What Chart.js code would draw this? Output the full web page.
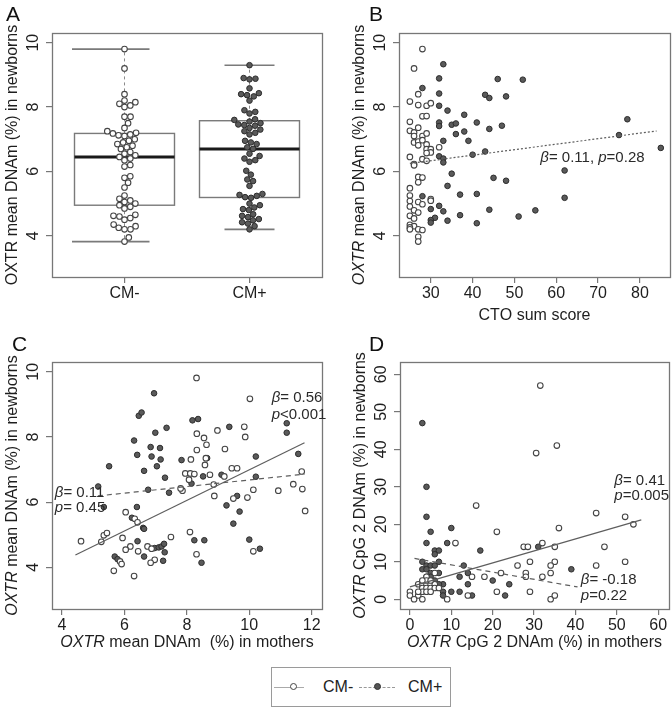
<!DOCTYPE html>
<html><head><meta charset="utf-8">
<script src="https://cdn.jsdelivr.net/npm/chart.js@4.4.1/dist/chart.umd.min.js"></script>
<style>
html,body{margin:0;padding:0;background:#fff;}
#wrap{position:relative;width:672px;height:709px;overflow:hidden;font-family:"Liberation Sans",Arial,Helvetica,sans-serif;color:#222;}
.pane{position:absolute;}
.pane canvas{display:block;}
#legend{position:absolute;left:271px;top:667px;width:180px;height:40px;border:1px solid #9a9a9a;box-sizing:border-box;}
#legend .ln{position:absolute;top:19px;height:0;}
#legend .dot{position:absolute;top:15px;width:7px;height:7px;border-radius:50%;box-sizing:border-box;}
#legend .lab{position:absolute;top:10px;font-size:16px;line-height:18px;}
</style></head><body>
<div id="wrap">
  <div class="pane" style="left:0;top:0"><canvas id="cA" width="336" height="320" style="width:336px;height:320px"></canvas></div>
  <div class="pane" style="left:336px;top:0"><canvas id="cB" width="336" height="320" style="width:336px;height:320px"></canvas></div>
  <div class="pane" style="left:0;top:320px"><canvas id="cC" width="336" height="340" style="width:336px;height:340px"></canvas></div>
  <div class="pane" style="left:336px;top:320px"><canvas id="cD" width="336" height="340" style="width:336px;height:340px"></canvas></div>
  <div id="legend">
    <div class="ln" style="left:2px;width:30px;border-top:1px solid #aaa"></div>
    <div class="dot" style="left:18px;border:1.5px solid #444;background:#fff"></div>
    <div class="lab" style="left:51px">CM-</div>
    <div class="ln" style="left:87px;width:36px;border-top:1px dashed #999"></div>
    <div class="dot" style="left:102px;border:1px solid #333;background:#555"></div>
    <div class="lab" style="left:136px">CM+</div>
  </div>
</div>
<script>
// ---------------- DATA ----------------
const groupLabels = ['CM-', 'CM+'];

// Panel A: newborn mean DNAm by group
const aNewbornCMneg = [9.8, 9.2, 8.4, 8.2, 8.15, 8.1, 8.05, 8.0, 7.7, 7.7, 7.5, 7.35, 7.25, 7.2, 7.18, 7.15, 7.12, 7.1,
  7.0, 6.95, 6.9, 6.85, 6.8, 6.75, 6.7, 6.6, 6.55, 6.5, 6.45, 6.4, 6.35, 6.2, 6.15, 5.85, 5.8, 5.65, 5.5,
  5.25, 5.15, 5.1, 5.05, 5.0, 4.95, 4.9, 4.85, 4.65, 4.62, 4.6, 4.55, 4.5, 4.35, 4.3, 4.25, 4.2, 4.2, 3.95, 3.82];
const aNewbornCMpos = [9.3, 8.9, 8.88, 8.86, 8.58, 8.43, 8.4, 8.37, 8.33, 8.2, 7.9, 7.85, 7.8, 7.62, 7.6, 7.55, 7.5,
  7.46, 7.44, 7.42, 7.35, 7.3, 7.25, 7.2, 7.15, 6.95, 6.9, 6.85, 6.75, 6.7, 6.55, 6.48, 6.4, 6.35, 6.3, 6.02, 5.9,
  5.75, 5.7, 5.55, 5.3, 5.27, 5.24, 5.2, 5.18, 5.0, 4.95, 4.88, 4.83, 4.8, 4.67, 4.62, 4.58, 4.52, 4.48, 4.42, 4.38, 4.3, 4.2];

// Panel B: [CTQ sum score, newborn mean DNAm]
const bCMneg = [[28,9.8],[26,9.2],[27,8.4],[25,8.17],[27,8.06],[29,8.04],[30,8.12],[28,7.71],[29,7.72],[25,7.54],
  [25,7.26],[26,7.21],[27,7.36],[26,7.1],[28,7.1],[29,7.18],[26,6.9],[27,6.93],[28,6.97],[27,6.81],[29,6.84],
  [29,6.69],[30,6.69],[30,6.59],[29,6.57],[25,6.45],[28,6.38],[29,6.33],[26,6.23],[26,6.19],[27,5.83],[28,5.81],
  [27,5.66],[25,5.48],[25,5.25],[25,5.08],[27,5.05],[28,4.98],[30,5.14],[30,5.09],[25,4.91],[26,4.79],[27,4.72],
  [25,4.62],[26,4.54],[25,4.34],[26,4.30],[25,4.26],[27,4.2],[28,4.18],[27,3.97],[27,3.82],[32,6.75],[25,4.2]];
const bCMpos = [[33,9.33],[32,8.89],[28,8.59],[32,8.42],[32,8.04],[34,7.89],[38,7.76],[32,7.52],[32,7.41],[35,7.45],
  [36,7.49],[41,7.52],[47,7.42],[36,7.16],[38,7.24],[44,7.32],[39,6.95],[33,6.95],[43,6.62],[40,6.52],[32,6.47],
  [33,6.4],[33,6.28],[35,5.93],[45,5.8],[48,5.71],[34,5.55],[37,5.28],[41,5.3],[28,5.23],[32,4.93],[30,4.83],
  [33,4.76],[44,4.81],[55,4.79],[37,4.64],[31,4.56],[30,4.49],[30,4.41],[34,4.47],[41,4.39],[51,4.6],[46,8.87],
  [52,8.85],[43,8.38],[44,8.28],[48,8.33],[75,7.13],[77,7.62],[85,6.73],[62,6.03],[62,5.18]];

// Panel C: [mother mean DNAm, newborn mean DNAm]
const cCMneg = [[8.31,9.81],[10.02,9.17],[9.84,8.31],[8.98,8.2],[8.32,8.1],[8.55,7.97],[9.87,8.0],[8.63,7.76],
  [8.32,7.6],[9.22,7.63],[8.13,7.31],[8.61,7.35],[8.58,7.14],[7.95,6.88],[8.11,6.88],[8.24,6.86],[8.74,6.84],
  [9.2,6.79],[9.44,7.04],[9.61,7.04],[11.68,6.94],[8.07,6.69],[11.41,6.55],[11.7,6.4],[10.93,6.35],[10.13,6.38],
  [9.94,6.14],[9.49,6.11],[8.88,6.19],[8.86,6.54],[7.86,6.35],[7.8,6.42],[6.04,5.69],[6.33,5.49],[6.42,5.38],
  [11.79,5.73],[4.61,4.8],[5.26,4.78],[5.34,4.98],[5.44,5.05],[5.94,4.9],[6.19,4.64],[6.04,4.54],[6.44,4.49],
  [6.74,4.64],[6.87,4.57],[6.97,4.23],[6.84,4.14],[6.31,3.73],[5.66,3.89],[5.86,4.18],[5.91,4.1],[7.49,4.93],
  [8.1,5.08],[8.31,4.4],[10.13,4.49]];
const cCMpos = [[6.95,9.34],[6.46,8.65],[6.55,8.75],[8.18,8.51],[8.36,8.55],[7.35,8.28],[9.36,8.31],[11.2,8.42],
  [11.2,8.13],[6.99,8.13],[6.31,7.89],[6.84,7.69],[7.14,7.66],[6.41,7.45],[6.87,7.40],[7.16,7.31],[10.21,7.4],
  [11.57,7.48],[7.83,7.29],[8.65,7.35],[5.51,7.1],[7.04,7.1],[6.63,6.96],[7.3,6.75],[8.52,6.79],[9.11,6.84],
  [10.21,6.78],[8.15,6.57],[9.61,6.19],[9.27,5.9],[7.43,6.29],[6.76,6.38],[5.16,6.48],[5.34,5.85],[6.4,5.85],
  [6.24,5.52],[6.6,5.21],[6.63,5.18],[9.69,5.71],[9.49,5.34],[6.42,4.8],[6.97,4.59],[7.1,4.61],[7.19,4.64],
  [7.27,4.72],[7.29,4.46],[6.63,4.33],[7.24,4.2],[5.69,4.33],[5.78,4.25],[8.24,4.83],[8.56,4.83],[8.47,4.14],
  [10.0,4.85],[10.34,4.57]];

// Panel D: [mother CpG 2 DNAm, newborn CpG 2 DNAm]
const dCMneg = [[31.5,57],[30.5,39],[35.5,41],[16,25],[21,18],[45,23],[52,22],[54,20],[36,19],[11,15],[32,15],
  [27.5,14],[28.5,14],[35,14],[47,14],[29,10],[26,9],[35,10],[34,9],[45,9],[52,10],[28,7],[28,6],[22,7],[18,6],
  [15,6],[32,6],[34,7],[21,2],[29,2],[34,0],[35,1],[14,1],[9,0],[0,2],[0,1],[2,1],[1,0],[3,0],[2,4],[3,4],[4,4],
  [5,4],[6,4],[3,3],[4,3],[5,3],[6,3],[3,2],[4,2],[5,2],[4,6],[4,5],[3,5],[5,5],[6,7],[2,2],[7,3]];
const dCMpos = [[3,47],[4,30],[4,22],[5,18],[10,19],[4,15],[9,15],[6,13],[7,13],[6,12],[17,13],[31,14],[3,10],
  [4,9],[5,9],[6,9],[7,10],[3,8],[4,8],[5,7],[5,6],[7,7],[13,9],[12,6],[14,7],[14,4],[8,4],[8,2],[8,1],[10,2],
  [12,2],[15,1],[20,5],[23,1],[24,4],[39,8],[6,5],[4,6],[7,4]];

// Fitted lines: [intercept, slope], [x from, x to]
const fitB = [5.82, 0.0171], fitBRange = [25, 84];
const fitCneg = [2.30, 0.469], fitCnegRange = [4.43, 11.77];
const fitCpos = [5.67, 0.101], fitCposRange = [5.15, 11.77];
const fitDneg = [3.3, 0.32], fitDnegRange = [0, 55.9];
const fitDpos = [11.1, -0.193], fitDposRange = [1.1, 40.5];

// Tick labels
const ticksDNAm = [4, 6, 8, 10];
const ticksCTQ = [30, 40, 50, 60, 70, 80];
const ticksMother = [4, 6, 8, 10, 12];
const ticksCpG = [0, 10, 20, 30, 40, 50, 60];
const ticksGroup = [1, 2];

// ---------------- DRAWING ----------------
const FAM = '"Liberation Sans", Arial, Helvetica, sans-serif';
Chart.defaults.font.family = FAM;

function drawRich(ctx, segs, x, y, align, size, rot, color) {
  ctx.save();
  ctx.translate(x, y);
  if (rot) ctx.rotate(rot);
  let w = 0;
  const ws = segs.map(s => { ctx.font = (s.i ? 'italic ' : '') + size + 'px ' + FAM; const m = ctx.measureText(s.t).width; w += m; return m; });
  let cx = align === 'center' ? -w / 2 : (align === 'right' ? -w : 0);
  ctx.textBaseline = 'middle'; ctx.textAlign = 'left'; ctx.fillStyle = color || '#1e1e1e';
  segs.forEach((s, k) => { ctx.font = (s.i ? 'italic ' : '') + size + 'px ' + FAM; ctx.fillText(s.t, cx, 0); cx += ws[k]; });
  ctx.restore();
}

function fivenum(arr) {
  const x = [...arr].sort((a, b) => a - b), n = x.length;
  const n4 = Math.floor((n + 3) / 2) / 2;
  return [1, n4, (n + 1) / 2, n + 1 - n4, n].map(p => 0.5 * (x[Math.floor(p) - 1] + x[Math.ceil(p) - 1]));
}

const rPanel = {
  id: 'rPanel',
  beforeDatasetsDraw(chart, args, o) {
    if (!o.boxes) return;
    const ctx = chart.ctx, xs = chart.scales.x, ys = chart.scales.y;
    o.boxes.forEach(b => {
      const f = fivenum(b.values);
      const iqr = f[3] - f[1];
      const hi = Math.max(...b.values.filter(v => v <= f[3] + 1.5 * iqr));
      const lo = Math.min(...b.values.filter(v => v >= f[1] - 1.5 * iqr));
      const xc = xs.getPixelForValue(b.g);
      const xl = xs.getPixelForValue(b.g - 0.4), xr = xs.getPixelForValue(b.g + 0.4);
      ctx.save();
      ctx.strokeStyle = '#8a8a8a'; ctx.lineWidth = 1; ctx.setLineDash([3, 3]);
      ctx.beginPath();
      ctx.moveTo(xc, ys.getPixelForValue(f[3])); ctx.lineTo(xc, ys.getPixelForValue(hi));
      ctx.moveTo(xc, ys.getPixelForValue(f[1])); ctx.lineTo(xc, ys.getPixelForValue(lo));
      ctx.stroke();
      ctx.setLineDash([]);
      ctx.strokeStyle = '#7a7a7a'; ctx.lineWidth = 1.6;
      ctx.beginPath();
      [hi, lo].forEach(v => { const py = ys.getPixelForValue(v); ctx.moveTo(xs.getPixelForValue(b.g + b.cap[0]), py); ctx.lineTo(xs.getPixelForValue(b.g + b.cap[1]), py); });
      ctx.stroke();
      ctx.strokeStyle = '#7a7a7a'; ctx.lineWidth = 1.4;
      const yt = ys.getPixelForValue(f[3]), yb = ys.getPixelForValue(f[1]);
      ctx.strokeRect(xl, yt, xr - xl, yb - yt);
      ctx.strokeStyle = '#1a1a1a'; ctx.lineWidth = 3;
      ctx.beginPath(); const ym = ys.getPixelForValue(f[2]); ctx.moveTo(xl, ym); ctx.lineTo(xr, ym); ctx.stroke();
      ctx.restore();
    });
  },
  afterDraw(chart, args, o) {
    const ctx = chart.ctx, a = chart.chartArea, xs = chart.scales.x, ys = chart.scales.y;
    ctx.save();
    ctx.strokeStyle = '#777'; ctx.lineWidth = 1.3;
    ctx.strokeRect(Math.round(a.left) + 0.5, Math.round(a.top) + 0.5, Math.round(a.right - a.left), Math.round(a.bottom - a.top));
    ctx.restore();
    ys.ticks.forEach(t => drawRich(ctx, [{ t: String(t.value) }], a.left - 18, ys.getPixelForValue(t.value), 'center', 16, -Math.PI / 2));
    if (o.yTitle) drawRich(ctx, o.yTitle, a.left - 39, (a.top + a.bottom) / 2, 'center', 16, -Math.PI / 2);
    if (o.xTitle) drawRich(ctx, o.xTitle, (a.left + a.right) / 2, a.bottom + o.xTitleGap, 'center', 16, 0);
    ctx.save(); ctx.font = '21px ' + FAM; ctx.fillStyle = '#111'; ctx.textBaseline = 'alphabetic';
    ctx.fillText(o.letter[0], o.letter[1], o.letter[2]); ctx.restore();
    (o.notes || []).forEach(n => drawRich(ctx, n.segs, xs.getPixelForValue(n.x), ys.getPixelForValue(n.y), 'left', 15, 0, '#2a2a2a'));
  }
};

function openDs(data) {
  return { data: data.map(p => ({ x: p[0], y: p[1] })), pointRadius: 2.8, pointBorderWidth: 1.1,
    pointBackgroundColor: '#ffffff', pointBorderColor: '#444', showLine: false };
}
function fillDs(data) {
  return { data: data.map(p => ({ x: p[0], y: p[1] })), pointRadius: 2.8, pointBorderWidth: 1,
    pointBackgroundColor: '#5a5a5a', pointBorderColor: '#2c2c2c', showLine: false };
}
function fitDs(coef, range, dash) {
  return { data: range.map(x => ({ x: x, y: coef[0] + coef[1] * x })), showLine: true, pointRadius: 0,
    borderColor: '#5e5e5e', borderWidth: 1.2, borderDash: dash || [], fill: false };
}

function makePanel(id, o) {
  return new Chart(document.getElementById(id), {
    type: 'scatter',
    data: { datasets: o.datasets },
    options: {
      responsive: false, animation: false, events: [],
      layout: { autoPadding: false, padding: { left: 0, top: o.area.t, right: o.W - o.area.r, bottom: 0 } },
      plugins: { legend: { display: false }, tooltip: { enabled: false }, rPanel: o.panel },
      scales: {
        x: {
          type: 'linear', min: o.xRange[0], max: o.xRange[1],
          afterBuildTicks: s => { s.ticks = o.xTicks.map(v => ({ value: v })); },
          afterFit: s => { s.height = o.H - o.area.b; },
          ticks: { display: true, padding: 1, color: '#1e1e1e', font: { size: 16 }, maxRotation: 0, minRotation: 0,
            autoSkip: false, callback: o.xLabel || (v => String(v)) },
          grid: { display: true, drawOnChartArea: false, drawTicks: true, tickLength: 6, color: '#777', lineWidth: 1.2 },
          border: { display: false }
        },
        y: {
          type: 'linear', min: o.yRange[0], max: o.yRange[1],
          afterBuildTicks: s => { s.ticks = o.yTicks.map(v => ({ value: v })); },
          afterFit: s => { s.width = o.area.l; },
          ticks: { display: false },
          grid: { display: true, drawOnChartArea: false, drawTicks: true, tickLength: 6, color: '#777', lineWidth: 1.2 },
          border: { display: false }
        }
      }
    },
    plugins: [rPanel]
  });
}

const yTitleNewborn = [{ t: 'OXTR', i: true }, { t: ' mean DNAm (%) in newborns' }];

// ---- Panel A ----
const chartA = makePanel('cA', {
  W: 336, H: 320, area: { l: 52, t: 33, r: 322, b: 277 },
  xRange: [0.42, 2.58], yRange: [2.72, 10.3], xTicks: ticksGroup, yTicks: ticksDNAm,
  xLabel: v => groupLabels[v - 1],
  datasets: [
    openDs(aNewbornCMneg.map(v => [1, v])),
    fillDs(aNewbornCMpos.map(v => [2, v]))
  ],
  panel: {
    letter: ['A', 6, 21],
    yTitle: [{ t: 'OXTR mean DNAm (%) in newborns' }],
    boxes: [{ g: 1, values: aNewbornCMneg, cap: [-0.42, 0.2] }, { g: 2, values: aNewbornCMpos, cap: [-0.2, 0.2] }]
  }
});

function swarm(chart, dsIndex, values, gx) {
  const xs = chart.scales.x, ys = chart.scales.y, d = 6;
  const order = values.map((v, i) => i).sort((a, b) => values[a] - values[b]);
  const placed = [], out = new Array(values.length);
  const cx = xs.getPixelForValue(gx);
  for (const i of order) {
    const py = ys.getPixelForValue(values[i]);
    const cands = [0];
    for (const p of placed) {
      const dy = Math.abs(p.y - py);
      if (dy < d) { const dx = Math.sqrt(d * d - dy * dy); cands.push(p.x + dx, p.x - dx); }
    }
    cands.sort((a, b) => Math.abs(a) - Math.abs(b));
    let best = 0;
    for (const c of cands) {
      if (placed.every(p => (p.x - c) ** 2 + (p.y - py) ** 2 >= d * d - 0.01)) { best = c; break; }
    }
    placed.push({ x: best, y: py });
    out[i] = { x: xs.getValueForPixel(cx + best), y: values[i] };
  }
  chart.data.datasets[dsIndex].data = out;
}
swarm(chartA, 0, aNewbornCMneg, 1);
swarm(chartA, 1, aNewbornCMpos, 2);
chartA.update('none');

// ---- Panel B ----
makePanel('cB', {
  W: 336, H: 320, area: { l: 63, t: 33, r: 334, b: 277 },
  xRange: [22.4, 87.2], yRange: [2.72, 10.3], xTicks: ticksCTQ, yTicks: ticksDNAm,
  datasets: [fitDs(fitB, fitBRange, [2, 2]), openDs(bCMneg), fillDs(bCMpos)],
  panel: {
    letter: ['B', 33, 21], yTitle: yTitleNewborn,
    xTitle: [{ t: 'CTQ sum score' }], xTitleGap: 39,
    notes: [{ x: 56.2, y: 6.43, segs: [{ t: 'β', i: true }, { t: '= 0.11, ' }, { t: 'p', i: true }, { t: '=0.28' }] }]
  }
});

// ---- Panel C ----
makePanel('cC', {
  W: 336, H: 340, area: { l: 52, t: 42, r: 322, b: 289 },
  xRange: [3.68, 12.33], yRange: [2.72, 10.3], xTicks: ticksMother, yTicks: ticksDNAm,
  datasets: [fitDs(fitCneg, fitCnegRange), fitDs(fitCpos, fitCposRange, [5, 4]), openDs(cCMneg), fillDs(cCMpos)],
  panel: {
    letter: ['C', 12, 31], yTitle: yTitleNewborn,
    xTitle: [{ t: 'OXTR', i: true }, { t: ' mean DNAm  (%) in mothers' }], xTitleGap: 34,
    notes: [
      { x: 10.72, y: 9.19, segs: [{ t: 'β', i: true }, { t: '= 0.56' }] },
      { x: 10.72, y: 8.67, segs: [{ t: 'p', i: true }, { t: '<0.001' }] },
      { x: 3.77, y: 6.29, segs: [{ t: 'β', i: true }, { t: '= 0.11' }] },
      { x: 3.77, y: 5.83, segs: [{ t: 'p', i: true }, { t: '= 0.45' }] }
    ]
  }
});

// ---- Panel D ----
makePanel('cD', {
  W: 336, H: 340, area: { l: 64, t: 42, r: 333, b: 289 },
  xRange: [-2.4, 62.6], yRange: [-2.6, 63.3], xTicks: ticksCpG, yTicks: ticksCpG,
  datasets: [fitDs(fitDneg, fitDnegRange), fitDs(fitDpos, fitDposRange, [5, 4]), openDs(dCMneg), fillDs(dCMpos)],
  panel: {
    letter: ['D', 33, 31],
    yTitle: [{ t: 'OXTR', i: true }, { t: ' CpG 2 DNAm (%) in newborns' }],
    xTitle: [{ t: 'OXTR', i: true }, { t: ' CpG 2 DNAm (%) in mothers' }], xTitleGap: 34,
    notes: [
      { x: 49.4, y: 31.5, segs: [{ t: 'β', i: true }, { t: '= 0.41' }] },
      { x: 49.4, y: 27.5, segs: [{ t: 'p', i: true }, { t: '=0.005' }] },
      { x: 41.3, y: 5.1, segs: [{ t: 'β', i: true }, { t: '= -0.18' }] },
      { x: 41.3, y: 0.8, segs: [{ t: 'p', i: true }, { t: '=0.22' }] }
    ]
  }
});
</script>
</body></html>
